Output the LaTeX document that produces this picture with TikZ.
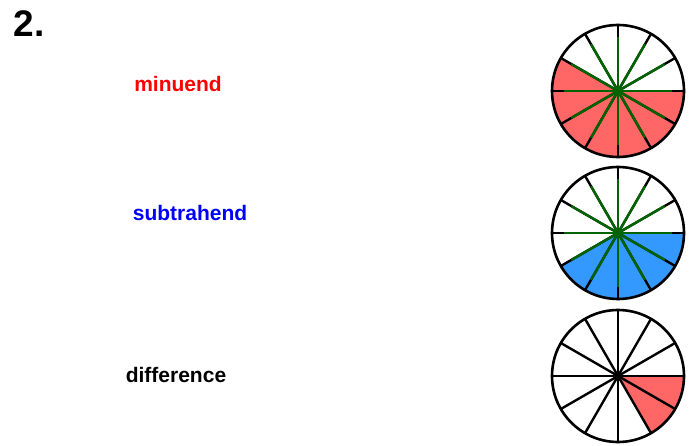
\documentclass[tikz,border=0pt]{standalone}
\usepackage{fontspec}
\setmainfont{Liberation Sans}
\definecolor{pie red}{RGB}{255,102,102}
\definecolor{pie blue}{RGB}{51,153,255}
\definecolor{spoke green}{RGB}{0,100,0}

\begin{document}
\begin{tikzpicture}[x=1pt, y=1pt,
  lbl/.style={font=\fontsize{21}{25}\selectfont\bfseries},
  rim/.style={draw=black, line width=2.6pt},
  spk/.style={line width=2.4pt}]
\useasboundingbox (0,0) rectangle (693,445);
\node[font=\fontsize{37}{44}\selectfont\bfseries] (num) at (29,421) {2.};
\node[lbl, text=red] (M) at (178,361) {minuend};
\node[lbl, text=blue] (S) at (190,232) {subtrahend};
\node[lbl] (D) at (176,70) {difference};
\coordinate (W1) at (618,354);
\coordinate (W2) at (618,212);
\coordinate (W3) at (618,69);
\fill[pie red] (W1) -- ++(150:66) arc (150:360:66) -- cycle;
\fill[pie blue] (W2) -- ++(210:66) arc (210:360:66) -- cycle;
\fill[pie red] (W3) -- ++(300:66) arc (300:360:66) -- cycle;
\foreach \w in {W1,W2,W3}
  \foreach \a in {0,30,...,330}
    \draw[spk] (\w) -- ++(\a:66);
\foreach \w in {W1,W2}{
  \foreach \a in {0,30,...,330}
    \draw[spk, spoke green] (\w) -- ++(\a:54);
  \fill[spoke green] (\w) circle (4);
}
\fill (W3) circle (3);
\foreach \w in {W1,W2,W3}
  \draw[rim] (\w) circle (66);
\end{tikzpicture}
\end{document}
